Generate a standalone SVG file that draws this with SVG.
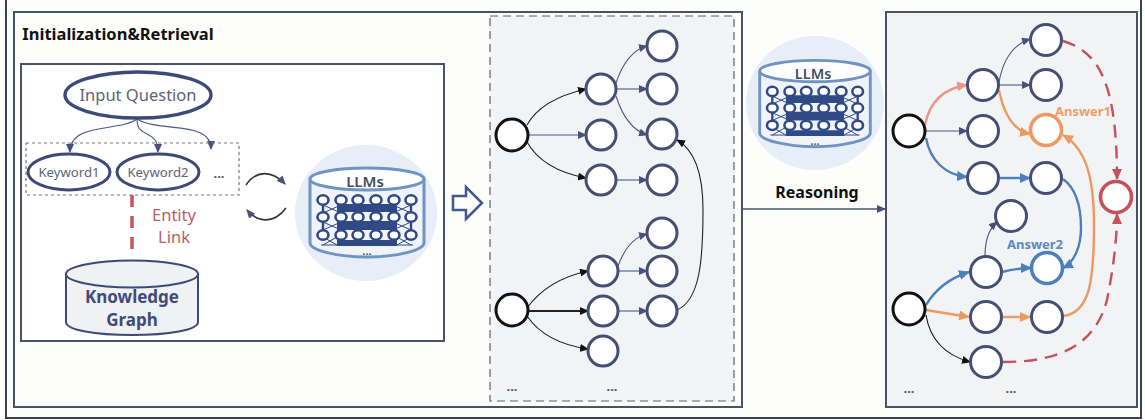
<svg xmlns="http://www.w3.org/2000/svg" width="1145" height="420" viewBox="0 0 1145 420">
<style>
text{font-family:"Noto Sans","Open Sans","Liberation Sans",sans-serif;text-anchor:middle}
.frame{fill:none;stroke:#4a5268;stroke-width:2}
.n{fill:#fff;stroke:#454f75;stroke-width:3}
.s{fill:#fff;stroke:#111;stroke-width:3}
.e{fill:none;stroke-width:1.1}
.k{stroke:#222}
.b{stroke:#4a5a85}
.o{stroke:#ec9a62;stroke-width:2.4}
.p{stroke:#e6978a;stroke-width:2.4}
.u{stroke:#4c80bd;stroke-width:2.4}
.r{stroke:#c4525a;stroke-width:2.4;stroke-dasharray:13 8}
.t{fill:#5c6478;font-size:16.5px}
.kw{fill:#5c6478;font-size:13.2px}
.kg{fill:#3f4c76;font-size:17px;font-weight:700}
.dots{fill:#555;font-size:13px;font-weight:700}
.ol{fill:#fff;stroke:#3d4a78;stroke-width:3}
.mc{fill:#fff;stroke:#2f4a85;stroke-width:2.6}
</style>
<defs>
<marker id="mk" markerUnits="userSpaceOnUse" markerWidth="9" markerHeight="8" refX="8" refY="4" orient="auto"><path d="M0 0L9 4L0 8Z" fill="#111"/></marker>
<marker id="mb" markerUnits="userSpaceOnUse" markerWidth="9" markerHeight="8" refX="8" refY="4" orient="auto"><path d="M0 0L9 4L0 8Z" fill="#46527c"/></marker>
<marker id="mo" markerUnits="userSpaceOnUse" markerWidth="11" markerHeight="10" refX="10" refY="5" orient="auto"><path d="M0 0L11 5L0 10Z" fill="#ec9a62"/></marker>
<marker id="mp" markerUnits="userSpaceOnUse" markerWidth="11" markerHeight="10" refX="10" refY="5" orient="auto"><path d="M0 0L11 5L0 10Z" fill="#e6978a"/></marker>
<marker id="mu" markerUnits="userSpaceOnUse" markerWidth="11" markerHeight="10" refX="10" refY="5" orient="auto"><path d="M0 0L11 5L0 10Z" fill="#4c80bd"/></marker>
<marker id="mr" markerUnits="userSpaceOnUse" markerWidth="11" markerHeight="10" refX="10" refY="5" orient="auto"><path d="M0 0L11 5L0 10Z" fill="#c4525a"/></marker>
<g id="llm">
<path d="M-57 -34V30C-57 37 -30 44 0 44S57 37 57 30V-34" fill="#f0f3f9" stroke="#6f94bf" stroke-width="3"/>
<ellipse cx="0" cy="-34" rx="57" ry="11" fill="#fff" stroke="#6f94bf" stroke-width="3"/>
<text x="-2" y="-26" fill="#444c60" style="font-size:15px;font-weight:600">LLMs</text>
<path d="M-44 -13V22M-26 -13V22M-9 -13V22M9 -13V22M27 -13V22M44 -13V22" stroke="#2f4a85" stroke-width="2.4"/>
<path d="M-30 -9H30V-1H-30Z M-30 8H30V17H-30Z M-30 27H30V33H-30Z" fill="#2f4a85"/>
<path d="M-44 -8L-26 0M-26 -8L-44 0M44 -8L26 0M26 -8L44 0M-44 9L-26 17M-26 9L-44 17M44 9L26 17M26 9L44 17M-44 24L-30 32M-30 24L-44 32M44 24L30 32M30 24L44 32M-46 32H46" stroke="#2f4a85" stroke-width="1" fill="none"/>
<g class="mc">
<ellipse cx="-44" cy="-13" rx="5.5" ry="4.8"/><ellipse cx="-26" cy="-13" rx="5.5" ry="4.8"/><ellipse cx="-9" cy="-13" rx="5.5" ry="4.8"/><ellipse cx="9" cy="-13" rx="5.5" ry="4.8"/><ellipse cx="27" cy="-13" rx="5.5" ry="4.8"/><ellipse cx="44" cy="-13" rx="5.5" ry="4.8"/>
<ellipse cx="-44" cy="4" rx="5.5" ry="4.8"/><ellipse cx="-26" cy="4" rx="5.5" ry="4.8"/><ellipse cx="-9" cy="4" rx="5.5" ry="4.8"/><ellipse cx="9" cy="4" rx="5.5" ry="4.8"/><ellipse cx="27" cy="4" rx="5.5" ry="4.8"/><ellipse cx="44" cy="4" rx="5.5" ry="4.8"/>
<ellipse cx="-44" cy="22" rx="5.5" ry="4.8"/><ellipse cx="-26" cy="22" rx="5.5" ry="4.8"/><ellipse cx="-9" cy="22" rx="5.5" ry="4.8"/><ellipse cx="9" cy="22" rx="5.5" ry="4.8"/><ellipse cx="27" cy="22" rx="5.5" ry="4.8"/><ellipse cx="44" cy="22" rx="5.5" ry="4.8"/>
</g>
<text x="0" y="42" class="dots" style="font-size:11px">...</text>
</g>
</defs>
<rect width="1145" height="420" fill="#fdfdfb"/>
<rect x="6" y="-6" width="1135" height="424" fill="none" stroke="#3a3f4c" stroke-width="2"/>
<g id="panel-retrieval">
<rect x="14" y="12" width="728" height="395" class="frame" style="fill:#fdfdfb"/>
<text x="118" y="40" style="font-size:16.5px;font-weight:700;fill:#111">Initialization&amp;Retrieval</text>
<rect x="21" y="64" width="423" height="277" class="frame" style="fill:#fff"/>
</g>
<g id="panel-graph">
<rect x="490" y="16" width="244" height="385" fill="#f2f3f5" stroke="#56607a" stroke-width="1.2" stroke-dasharray="8 5"/>
<text x="512" y="391" class="dots">...</text><text x="612" y="391" class="dots">...</text>
</g>
<g id="panel-reasoning">
<rect x="886" y="12" width="251" height="395" fill="#f2f3f5" stroke="#4a5268" stroke-width="2"/>
<text x="909" y="393" class="dots">...</text><text x="1011" y="393" class="dots">...</text>
</g>
<g id="connectors">
<path class="e b" marker-end="url(#mb)" d="M137 119C120 132 70 122 70 152"/>
<path class="e b" marker-end="url(#mb)" d="M137 119C137 140 158 128 158 152"/>
<path class="e b" marker-end="url(#mb)" d="M137 119C160 133 211 120 211 149"/>
<path class="e k" style="stroke:#333;stroke-width:1.6" marker-end="url(#mb)" d="M246 185C256 170 272 170 285 184"/>
<path class="e k" style="stroke:#333;stroke-width:1.6" marker-end="url(#mb)" d="M286 208C274 224 258 223 247 210"/>
<path d="M132 195V250" fill="none" stroke="#c8555e" stroke-width="3.5" stroke-dasharray="12 9"/>
<path d="M743 209H885" class="e" style="stroke:#4a5268;stroke-width:1.6" marker-end="url(#mb)"/>
<path class="e k" marker-end="url(#mk)" d="M527 125C538 105 560 95 586 89"/>
<path class="e b" marker-end="url(#mb)" d="M527 135H586"/>
<path class="e k" marker-end="url(#mk)" d="M527 142C540 165 565 174 586 178"/>
<path class="e b" marker-end="url(#mb)" d="M616 83C622 65 632 50 647 46"/>
<path class="e b" marker-end="url(#mb)" d="M616 89H647"/>
<path class="e b" marker-end="url(#mb)" d="M616 96C622 115 632 130 647 135"/>
<path class="e b" marker-end="url(#mb)" d="M616 180H647"/>
<path class="e k" marker-end="url(#mk)" d="M527 308C540 290 560 277 588 271"/>
<path class="e k" style="stroke-width:1.8" marker-end="url(#mk)" d="M527 311H588"/>
<path class="e k" marker-end="url(#mk)" d="M527 316C540 335 560 345 588 349"/>
<path class="e b" marker-end="url(#mb)" d="M618 266C624 250 632 238 647 234"/>
<path class="e b" marker-end="url(#mb)" d="M618 271H647"/>
<path class="e b" marker-end="url(#mb)" d="M618 311H647"/>
<path class="e k" marker-end="url(#mk)" d="M677 310C700 300 703 260 703 210C703 175 695 150 677 140"/>
<path class="e p" marker-end="url(#mp)" d="M925 125C930 100 945 88 967 85"/>
<path class="e b" marker-end="url(#mb)" d="M925 131H967"/>
<path class="e u" marker-end="url(#mu)" d="M926 138C930 160 945 175 967 177"/>
<path class="e b" marker-end="url(#mb)" d="M999 82C1003 60 1012 45 1030 39"/>
<path class="e b" marker-end="url(#mb)" d="M999 85H1030"/>
<path class="e o" marker-end="url(#mo)" d="M999 90C1003 110 1012 130 1030 134"/>
<path class="e u" marker-end="url(#mu)" d="M1000 178H1030"/>
<path class="e u" marker-end="url(#mu)" d="M1063 179C1078 190 1081 210 1081 228C1081 245 1075 262 1063 268"/>
<path class="e b" marker-end="url(#mb)" d="M985 256C985 240 990 228 997 222"/>
<path class="e u" marker-end="url(#mu)" d="M926 305C935 290 950 278 969 272"/>
<path class="e u" marker-end="url(#mu)" d="M1002 272C1010 270 1020 268 1031 268"/>
<path class="e o" marker-end="url(#mo)" d="M926 310L969 317"/>
<path class="e o" marker-end="url(#mo)" d="M1002 317H1030"/>
<path class="e o" marker-end="url(#mo)" d="M1064 316C1090 312 1094 280 1094 225C1094 175 1085 148 1063 135"/>
<path class="e k" style="stroke:#111" marker-end="url(#mk)" d="M926 315C930 340 945 355 970 362"/>
<path class="e r" marker-end="url(#mr)" d="M1063 41C1100 52 1117 85 1117 179"/>
<path class="e r" marker-end="url(#mr)" d="M1003 362C1060 362 1095 345 1107 300C1113 270 1117 240 1117 214"/>
</g>
<g id="input-question"><ellipse cx="138" cy="95" rx="73" ry="23" class="ol" style="stroke-width:3.4"/><text x="138" y="101" class="t">Input Question</text></g>
<g id="keywords">
<rect x="26" y="143" width="213" height="52" fill="none" stroke="#777" stroke-width="1.2" stroke-dasharray="3 3"/>
<text x="219" y="178" class="dots">...</text>
</g>
<g id="keyword1"><ellipse cx="69" cy="172" rx="41" ry="18" class="ol"/><text x="69" y="177" class="kw">Keyword1</text></g>
<g id="keyword2"><ellipse cx="158" cy="172" rx="41" ry="18" class="ol"/><text x="158" y="177" class="kw">Keyword2</text></g>
<g id="entity-link"><text x="174" y="221" style="font-size:16.5px;fill:#b85f66">Entity</text><text x="174" y="243" style="font-size:16.5px;fill:#b85f66">Link</text></g>
<g id="knowledge-graph">
<path d="M66 274V322C66 330 95 335 132 335S198 330 198 322V274" fill="#f0f1f3" stroke="#3d4a78" stroke-width="2"/>
<ellipse cx="132" cy="274" rx="66" ry="13.5" fill="#f0f1f3" stroke="#3d4a78" stroke-width="2"/>
<text x="132" y="303" class="kg">Knowledge</text><text x="132" y="326" class="kg">Graph</text>
</g>
<g id="llms-1"><ellipse cx="366" cy="213" rx="71" ry="68" fill="#e8eef7"/><use href="#llm" x="367" y="213"/></g>
<g id="llms-2"><ellipse cx="815" cy="103" rx="69" ry="67" fill="#e8eef7"/><use href="#llm" transform="translate(815 104) scale(.97)"/></g>
<g id="swap"><polygon points="453,196 466,196 466,187 482,203 466,219 466,210 453,210" fill="#fff" stroke="#3f5a8f" stroke-width="2.5"/></g>
<text x="817" y="198" style="font-size:16px;font-weight:700;fill:#111">Reasoning</text>
<g id="graph-nodes">
<g id="m1"><circle cx="512" cy="135" r="16" class="s"/></g><g id="m2"><circle cx="512" cy="310" r="16" class="s"/></g>
<g id="m3"><circle cx="601" cy="89" r="15" class="n"/></g><g id="m4"><circle cx="601" cy="135" r="15" class="n"/></g><g id="m5"><circle cx="601" cy="180" r="15" class="n"/></g>
<g id="m6"><circle cx="662" cy="46" r="15" class="n"/></g><g id="m7"><circle cx="662" cy="89" r="15" class="n"/></g><g id="m8"><circle cx="662" cy="134" r="15" class="n"/></g><g id="m9"><circle cx="662" cy="180" r="15" class="n"/></g>
<g id="m10"><circle cx="662" cy="233" r="15" class="n"/></g><g id="m11"><circle cx="662" cy="271" r="15" class="n"/></g><g id="m12"><circle cx="662" cy="311" r="15" class="n"/></g>
<g id="m13"><circle cx="603" cy="271" r="15" class="n"/></g><g id="m14"><circle cx="603" cy="311" r="15" class="n"/></g><g id="m15"><circle cx="603" cy="351" r="15" class="n"/></g>
</g>
<g id="reason-nodes">
<g id="r1"><circle cx="909" cy="131" r="16" class="s"/></g><g id="r2"><circle cx="909" cy="309" r="16" class="s"/></g>
<g id="r3"><circle cx="983" cy="85" r="15.5" class="n"/></g><g id="r4"><circle cx="983" cy="131" r="15.5" class="n"/></g><g id="r5"><circle cx="983" cy="178" r="15.5" class="n"/></g>
<g id="r6"><circle cx="1046" cy="40" r="15.5" class="n"/></g><g id="r7"><circle cx="1046" cy="85" r="15.5" class="n"/></g>
<g id="r8"><circle cx="1046" cy="130" r="15.5" class="n" style="stroke:#ec9a62;stroke-width:3.6"/></g>
<g id="r9"><circle cx="1046" cy="178" r="15.5" class="n"/></g>
<g id="r10"><circle cx="1116" cy="197" r="15.5" class="n" style="stroke:#c4525a;stroke-width:3.6"/></g>
<g id="r11"><circle cx="1011" cy="216" r="15.5" class="n"/></g><g id="r12"><circle cx="986" cy="272" r="15.5" class="n"/></g>
<g id="r13"><circle cx="1047" cy="268" r="15.5" class="n" style="stroke:#4c80bd;stroke-width:3.6"/></g>
<g id="r14"><circle cx="986" cy="317" r="15.5" class="n"/></g><g id="r15"><circle cx="1047" cy="317" r="15.5" class="n"/></g><g id="r16"><circle cx="986" cy="362" r="15.5" class="n"/></g>
<text x="1083" y="116" style="font-size:13px;font-weight:700;fill:#ec9f6c">Answer1</text>
<text x="1035" y="249" style="font-size:13px;font-weight:700;fill:#5a8abf">Answer2</text>
</g>
</svg>
